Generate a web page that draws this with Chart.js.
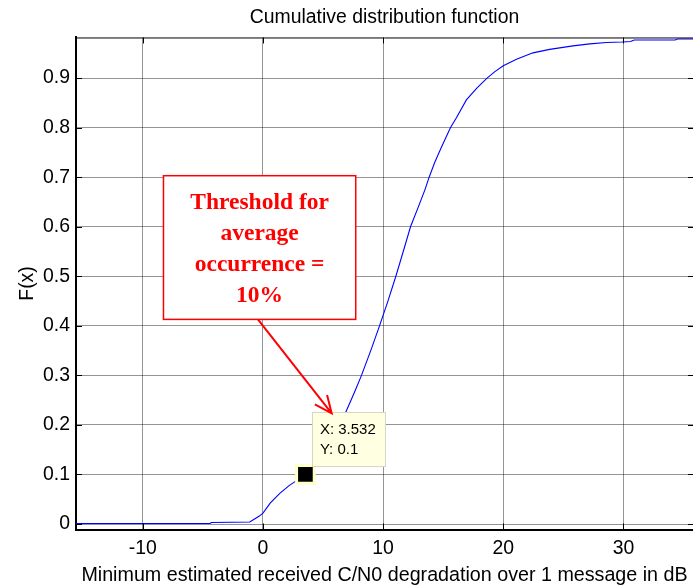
<!DOCTYPE html>
<html><head><meta charset="utf-8">
<script src="https://cdn.jsdelivr.net/npm/chart.js@4/dist/chart.umd.min.js"></script>
<style>html,body{margin:0;padding:0;background:#fff;}#wrap{width:693px;height:587px;}</style>
</head><body><div id="wrap"><canvas id="c" width="693" height="587"></canvas></div>
<script>
// ---- data ----
const cdfX = [-15.6, -4.4, -4.3, -1.1, -0.7, -0.3, 0, 0.6, 1.4, 2.2, 2.7, 3.532, 4.3, 5.0, 5.8, 6.5, 6.95, 7.6, 8.2, 9.0, 9.7, 10.4, 11.06, 11.7, 12.28, 12.9, 13.47, 13.83, 14.3, 14.86, 15.6, 16.1, 16.93, 17.8, 18.65, 19.3, 20.0, 21.1, 22.47, 23.86, 25.8, 27.2, 28.57, 29.9, 30.6, 30.9, 34.3, 34.5, 36.7];
const cdfY = [0.001, 0.001, 0.003, 0.004, 0.010, 0.016, 0.022, 0.042, 0.062, 0.078, 0.086, 0.1, 0.118, 0.140, 0.170, 0.205, 0.229, 0.265, 0.300, 0.352, 0.400, 0.450, 0.500, 0.552, 0.600, 0.638, 0.674, 0.700, 0.730, 0.761, 0.800, 0.820, 0.856, 0.880, 0.900, 0.913, 0.925, 0.938, 0.951, 0.958, 0.965, 0.969, 0.972, 0.973, 0.974, 0.977, 0.977, 0.979, 0.979];
const tipX = [3.532];
const tipY = [0.1];
const xTicks = [-10, 0, 10, 20, 30];
const yTicks = [0, 0.1, 0.2, 0.3, 0.4, 0.5, 0.6, 0.7, 0.8, 0.9];
const titleText = 'Cumulative distribution function';
const xLabel = 'Minimum estimated received C/N0 degradation over 1 message in dB';
const yLabel = 'F(x)';
const noteLines = ['Threshold for', 'average', 'occurrence =', '10%'];
const tipLines = ['X: 3.532', 'Y: 0.1'];

// ---- layout / style (not data) ----
const FONT = "'Liberation Sans', Arial, sans-serif";
const notePos = { x0: -8.28, x1: 7.72, y0: 0.703, y1: 0.413 };
const arrowPos = { x0: -0.42, y0: 0.413, x1: 5.72, y1: 0.2234 };
const tipPos = { x0: 4.10, x1: 10.15, y0: 0.2254, y1: 0.117, tx: 4.74 };

Chart.defaults.font.family = FONT;

const decor = {
  id: 'decor',
  afterDraw(chart) {
    const { ctx, chartArea: a, scales: { x, y } } = chart;
    ctx.save();
    ctx.strokeStyle = '#000';
    ctx.lineWidth = 1;
    ctx.beginPath();
    ctx.moveTo(a.left, a.top + 0.5); ctx.lineTo(a.right, a.top + 0.5);
    xTicks.forEach(v => {
      const px = Math.round(x.getPixelForValue(v)) + 0.5;
      ctx.moveTo(px, a.bottom); ctx.lineTo(px, a.bottom - 6);
      ctx.moveTo(px, a.top); ctx.lineTo(px, a.top + 6);
    });
    yTicks.forEach(v => {
      const py = Math.round(y.getPixelForValue(v)) + 0.5;
      ctx.moveTo(a.left, py); ctx.lineTo(a.left + 6, py);
      ctx.moveTo(a.right, py); ctx.lineTo(a.right - 5, py);
    });
    ctx.stroke();

    // datatip box
    const tx0 = x.getPixelForValue(tipPos.x0), tx1 = x.getPixelForValue(tipPos.x1);
    const ty0 = y.getPixelForValue(tipPos.y0), ty1 = y.getPixelForValue(tipPos.y1);
    ctx.fillStyle = '#ffffe1';
    ctx.fillRect(tx0, ty0, tx1 - tx0, ty1 - ty0);
    ctx.strokeStyle = '#d6d6c2';
    ctx.strokeRect(Math.round(tx0) + 0.5, Math.round(ty0) + 0.5, Math.round(tx1 - tx0), Math.round(ty1 - ty0));
    ctx.fillStyle = '#000';
    ctx.font = '15px ' + FONT;
    ctx.textAlign = 'left';
    ctx.textBaseline = 'middle';
    const ttx = x.getPixelForValue(tipPos.tx);
    tipLines.forEach((t, i) => ctx.fillText(t, ttx, ty0 + 18 + i * 20));

    // note box
    const nx0 = x.getPixelForValue(notePos.x0), nx1 = x.getPixelForValue(notePos.x1);
    const ny0 = y.getPixelForValue(notePos.y0), ny1 = y.getPixelForValue(notePos.y1);
    ctx.fillStyle = '#fff';
    ctx.fillRect(nx0, ny0, nx1 - nx0, ny1 - ny0);
    ctx.strokeStyle = '#ff0000';
    ctx.lineWidth = 1.5;
    ctx.strokeRect(nx0, ny0, nx1 - nx0, ny1 - ny0);
    ctx.fillStyle = '#ff0000';
    ctx.font = "bold 23.5px 'Liberation Serif', 'Times New Roman', serif";
    ctx.textAlign = 'center';
    ctx.textBaseline = 'middle';
    const ncx = (nx0 + nx1) / 2;
    noteLines.forEach((t, i) => ctx.fillText(t, ncx, ny0 + 27 + i * 31));

    // arrow
    const ax0 = x.getPixelForValue(arrowPos.x0), ay0 = y.getPixelForValue(arrowPos.y0);
    const ax1 = x.getPixelForValue(arrowPos.x1), ay1 = y.getPixelForValue(arrowPos.y1);
    const ang = Math.atan2(ay1 - ay0, ax1 - ax0);
    ctx.strokeStyle = '#ff0000';
    ctx.lineWidth = 2;
    ctx.beginPath();
    ctx.moveTo(ax0, ay0); ctx.lineTo(ax1, ay1);
    const L = 19, w = 0.42;
    ctx.moveTo(ax1 - L * Math.cos(ang - w), ay1 - L * Math.sin(ang - w));
    ctx.lineTo(ax1, ay1);
    ctx.lineTo(ax1 - L * Math.cos(ang + w), ay1 - L * Math.sin(ang + w));
    ctx.stroke();
    ctx.restore();
  }
};

new Chart(document.getElementById('c'), {
  type: 'scatter',
  data: {
    datasets: [
      {
        data: cdfX.map((v, i) => ({ x: v, y: cdfY[i] })),
        showLine: true,
        borderColor: '#0000ff',
        borderWidth: 1.1,
        pointRadius: 0,
        tension: 0,
        order: 2
      },
      {
        data: tipX.map((v, i) => ({ x: v, y: tipY[i] })),
        showLine: false,
        pointStyle: 'rect',
        pointRadius: 12.5,
        backgroundColor: '#000',
        borderColor: '#ffffc8',
        borderWidth: 3,
        order: 1,
        clip: false
      }
    ]
  },
  options: {
    responsive: false,
    animation: false,
    devicePixelRatio: 1,
    layout: { autoPadding: false, padding: 0 },
    plugins: {
      legend: { display: false },
      tooltip: { enabled: false },
      title: {
        display: true,
        text: titleText,
        fullSize: false,
        color: '#000',
        font: { size: 19.4, weight: 'normal' },
        padding: { top: 6, bottom: 8.2 }
      }
    },
    scales: {
      x: {
        type: 'linear',
        min: -15.56,
        max: 35.79,
        afterBuildTicks: s => { s.ticks = xTicks.map(v => ({ value: v })); },
        afterFit: s => { s.height = 57.5; s.paddingRight = 0; s.paddingLeft = 0; },
        ticks: { color: '#000', font: { size: 19.4 }, padding: 8, maxRotation: 0, autoSkip: false },
        grid: { color: 'rgba(0,0,0,0.42)', lineWidth: 1, drawTicks: false },
        border: { display: true, color: '#000', width: 2 },
        title: { display: true, text: xLabel, color: '#000', font: { size: 19.7 }, padding: { top: 0, bottom: 0 } }
      },
      y: {
        type: 'linear',
        min: -0.0111,
        max: 0.982,
        afterBuildTicks: s => { s.ticks = yTicks.map(v => ({ value: v })); },
        afterFit: s => { s.width = 76; },
        ticks: { color: '#000', font: { size: 19.4 }, padding: 6, callback: v => (v === 0 ? '0' : v.toFixed(1)) },
        grid: { color: 'rgba(0,0,0,0.42)', lineWidth: 1, drawTicks: false },
        border: { display: true, color: '#000', width: 2 },
        title: { display: true, text: yLabel, color: '#000', font: { size: 19.4 }, padding: { top: 16.4, bottom: 0 } }
      }
    }
  },
  plugins: [decor]
});
</script>
</body></html>
